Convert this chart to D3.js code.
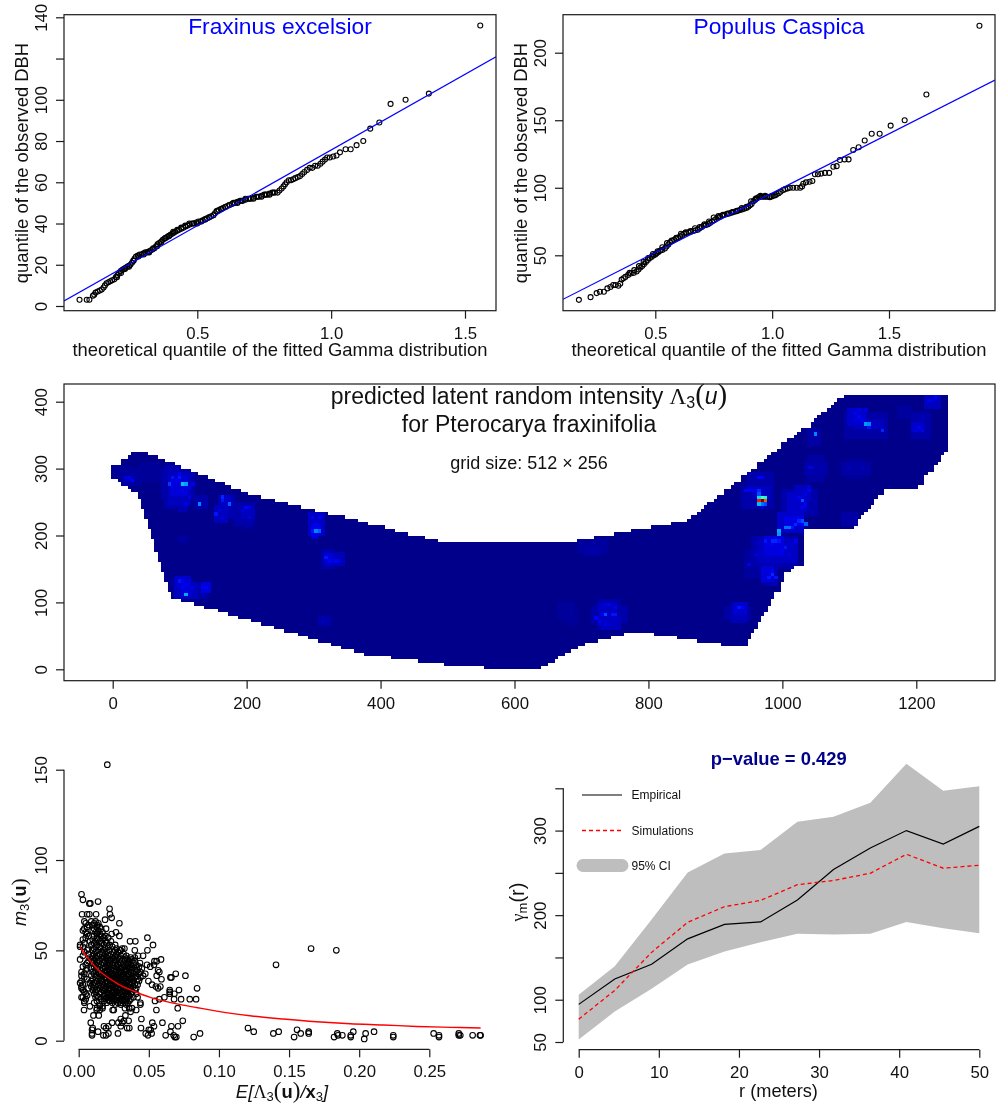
<!DOCTYPE html>
<html>
<head>
<meta charset="utf-8">
<script src="https://cdn.jsdelivr.net/npm/d3@7"></script>
<style>
body { margin: 0; background: #fff; }
svg { display: block; filter: blur(0.4px); }
text { font-family: "Liberation Sans", sans-serif; fill: #111; }
</style>
</head>
<body>
<svg id="chart" width="999" height="1105"></svg>
<script>
// ---- QQ plot: Fraxinus excelsior
var fraxTheo = [.06,.087,.097,.11,.115,.12,.128,.136,.143,.15,.155,.161,.168,.175,.182,.19,.196,.202,.208,.214,.22,.226,.232,.238,.244,.25,.256,.261,.266,.271,.278,.285,.292,.299,.306,.313,.32,.327,.334,.34,.346,.352,.358,.364,.37,.376,.382,.388,.394,.4,.406,.412,.418,.425,.432,.44,.448,.456,.464,.472,.48,.488,.496,.504,.512,.52,.528,.536,.544,.552,.56,.566,.572,.58,.588,.596,.604,.612,.62,.63,.64,.65,.66,.67,.68,.69,.7,.71,.72,.73,.74,.75,.76,.77,.78,.79,.8,.807,.815,.822,.828,.834,.842,.85,.858,.866,.875,.884,.892,.9,.91,.92,.93,.94,.95,.96,.968,.977,.985,.995,1.008,1.02,1.033,1.054,1.073,1.095,1.12,1.146,1.18,1.222,1.278,1.365,1.557,
.2,.215,.23,.245,.262,.28,.3,.32,.335,.35,.365,.38,.395,.41,.425,.44,.455,.47,.485,.5,.515,.53,.545,.56,.575,.59,.605,.62,.635,.65,.665,.68,.695,.71,.725,.74,.755,.77,.785];
var fraxObs = [3,3,3,5,5.5,6.5,7,7.5,8,9,10,11,11.5,12,12.5,13,14,15,16,17,17.5,18,18.5,19,19.5,20,21,22,23,24,24.5,25,25,25.5,26,26,26.5,27,27.5,28,29,30,30.5,31,32,32.5,33,33.5,34,34.5,35,35.5,36,36.5,37,37.5,38,38.5,39,39.5,40,40,40.5,41,41,41.5,42,42.5,43,43.5,44,45,46,46.5,47,47.5,48,48.5,49,49.5,50,50.5,51,51,51.5,52,52,52.5,53,53,53.5,54,54,54.5,55,55,55,56,57,58,59,60,61,61,61.5,62,62.5,63,64,65,66,67,67,68,68,69,70,71,72,72,72.5,73,74.5,76,76,78,80,86,89,98,100,103,136,
14,16,18,19,22,24,25,26,28,29,31,33,34,36,37,38,39,40,40,40,41,42,43,44,46,47,48,49,50,50,51,52,52,52,53,53,54,54,55];
var fraxLineX = [.002, 1.616];
var fraxLineY = [2.4, 120.9];

// ---- QQ plot: Populus Caspica
var popTheo = [.173,.223,.249,.263,.28,.295,.308,.32,.33,.342,.35,.356,.364,.372,.384,.395,.408,.42,.428,.436,.444,.452,.46,.468,.477,.485,.493,.5,.506,.514,.522,.53,.541,.548,.556,.563,.572,.581,.59,.598,.606,.615,.624,.633,.642,.652,.663,.672,.682,.69,.699,.708,.717,.726,.734,.743,.752,.761,.77,.777,.786,.796,.806,.816,.825,.834,.844,.853,.862,.871,.88,.89,.898,.905,.912,.92,.927,.934,.941,.948,.956,.964,.972,.98,.99,.998,1.006,1.014,1.02,1.028,1.036,1.048,1.056,1.066,1.076,1.09,1.105,1.12,1.128,1.133,1.145,1.16,1.172,1.183,1.196,1.21,1.226,1.244,1.262,1.276,1.29,1.31,1.327,1.347,1.37,1.396,1.426,1.46,1.507,1.567,1.66,1.887,
.39,.41,.43,.45,.47,.49,.51,.53,.55,.57,.59,.61,.63,.65,.67,.69,.71,.73,.75,.77,.79,.81,.83,.85,.87,.89,.91,.93,.95,.97,.99];
var popObs = [17,19,22,23,23,25.5,26.5,28,28,27.5,29,32,33,34,35.5,36.5,37,38,39.5,41,42,43.5,45,46.5,48,49,50,50.5,51.5,52.5,53.5,54,55,56.5,58,59.6,60.5,61.5,62.5,63,64,65,66,66.5,67,67.5,68,68.5,69,70,71,72,72.5,73,74,75,76,77,78,78.6,79.5,80,80.5,81,81.5,82,82.5,83,83.5,84,84.5,85,86,87,88,90,91,92,93,93.4,93.4,93.4,93.4,93.4,93.4,93.6,94,94.5,95.4,96,97,98.4,99,99.5,100,100,100,100,101,103,104,104.5,105,110,110,110.5,111,111,115.6,116,120.6,121,121,128,130,135,140,140,146,150,169,220,
37,39,42,45,48,51,53,56,59,61,63,66,67,68,70,71,73,75,78,79,80,81,82,83,85,86,90,92,94,94,93];
var popLineX = [.105, 1.9535];
var popLineY = [17.4, 179.8];

// ---- intensity map, cell table in 5 m steps [column start, edge]
var topEdge = [[-5,305],[10,315],[20,320],[25,325],[50,320],[65,315],[75,310],[90,305],[100,300],[115,295],[125,290],[140,285],[150,280],[165,275],[175,270],[190,265],[200,260],[220,255],[240,250],[260,245],[280,240],[300,235],[320,230],[345,225],[365,220],[380,215],[405,210],[420,205],[440,200],[465,195],[485,190],[695,195],[720,200],[750,205],[775,210],[805,215],[835,220],[860,225],[865,230],[875,235],[880,240],[885,245],[890,250],[900,255],[905,260],[915,270],[925,275],[930,280],[940,290],[950,295],[955,300],[965,310],[975,315],[980,320],[985,325],[995,330],[1000,340],[1010,345],[1020,350],[1025,355],[1030,360],[1045,370],[1050,375],[1055,380],[1060,385],[1070,390],[1075,395],[1080,400],[1085,405],[1095,410]];
var bottomEdge = [[-5,285],[5,280],[10,275],[20,270],[25,265],[35,255],[40,240],[45,225],[50,210],[55,195],[60,175],[65,160],[70,145],[75,130],[80,115],[85,105],[100,100],[120,95],[135,90],[155,85],[170,80],[185,75],[205,70],[220,65],[240,60],[255,55],[275,50],[290,45],[305,40],[325,35],[340,30],[360,25],[375,20],[415,15],[455,10],[495,5],[555,0],[640,5],[650,10],[660,15],[665,20],[675,25],[685,30],[695,35],[705,40],[725,45],[745,50],[765,55],[810,50],[845,45],[875,40],[910,35],[950,45],[955,55],[960,60],[965,70],[970,80],[975,85],[980,95],[985,105],[990,115],[1000,130],[1005,145],[1015,150],[1020,155],[1035,210],[1110,215],[1115,225],[1120,230],[1125,235],[1130,240],[1135,245],[1140,255],[1145,260],[1155,270],[1205,275],[1215,290],[1220,295],[1230,305],[1235,310],[1240,320],[1245,325]];
var lastColumn = 1245;
// faint patches [x0, y0, x1, y1, level]
var heatPatches = [
[0,285,20,300,.02],[10,275,35,295,.03],[35,280,65,305,.02],[15,280,25,285,.09],
[75,240,105,250,.05],[70,255,115,295,.05],[80,245,110,290,.08],[85,260,105,285,.12],[75,285,95,300,.06],[95,235,105,245,.06],
[120,240,135,255,.05],[155,225,175,255,.06],[150,220,165,240,.08],[160,245,170,255,.1],[180,215,205,245,.05],[190,225,205,240,.08],[195,210,200,220,.04],
[290,200,310,230,.09],[295,195,300,205,.13],[295,200,305,215,.14],[310,150,325,175,.05],[315,155,340,170,.07],[315,160,325,170,.12],
[90,120,110,135,.1],[90,105,120,125,.08],[100,110,110,130,.12],[120,105,135,125,.05],[130,115,140,125,.12],[85,125,100,130,.04],
[305,65,320,75,.05],[95,190,105,195,.03],[695,175,735,190,.03],[705,170,725,180,.04],[665,75,685,95,.025],[675,65,690,85,.02],
[725,60,755,100,.05],[715,70,765,90,.05],[725,65,750,95,.09],[730,60,755,75,.08],[915,75,950,90,.04],[925,70,945,95,.07],[930,80,945,95,.1],
[945,135,970,175,.03],[955,150,1020,195,.05],[965,160,1020,190,.09],[975,170,1000,195,.13],[970,130,985,150,.12],[975,125,990,160,.06],
[995,205,1030,230,.1],[1005,215,1030,225,.14],[1000,230,1050,265,.05],[1010,235,1035,260,.1],[1020,250,1040,270,.08],
[940,240,985,270,.05],[950,270,985,290,.05],[955,255,980,270,.08],
[1040,280,1060,315,.04],[1035,290,1065,305,.05],[1090,290,1130,305,.04],[1100,285,1120,310,.03],[1090,215,1110,230,.04],[1040,335,1055,355,.04],
[1095,345,1155,380,.04],[1100,365,1125,385,.1],[1110,360,1150,370,.08],[1195,345,1220,380,.05],[1195,355,1210,365,.1],[1215,390,1235,405,.08],[1175,375,1190,390,.03]];
// single bright cells [x, y, level]
var heatCells = [
[100,275,.38],[105,275,.35],[80,275,.24],[85,285,.2],[95,285,.2],[95,290,.18],[110,270,.16],[90,280,.16],[100,265,.16],[85,270,.17],[110,255,.14],[105,245,.14],[115,275,.15],
[125,245,.32],[160,255,.22],[160,250,.2],[170,245,.28],[195,240,.18],[200,240,.14],[150,230,.2],[155,235,.13],[160,225,.12],[200,225,.12],[190,235,.13],[25,280,.18],[20,285,.14],[15,285,.13],
[300,205,.32],[305,205,.28],[295,205,.2],[300,215,.16],[295,225,.16],[305,225,.18],[315,165,.2],[320,160,.18],[330,160,.16],[335,160,.14],
[95,130,.2],[105,110,.36],[100,120,.18],[105,125,.16],[100,130,.16],[115,120,.15],[130,120,.17],[135,120,.18],[140,125,.13],[310,70,.08],
[970,250,1],[965,250,.86],[975,250,.8],[970,255,.5],[965,255,.42],[975,255,.45],[965,245,.38],[970,245,.3],[975,245,.26],[965,260,.26],[965,265,.22],[970,240,.14],
[945,265,.16],[950,265,.16],[955,265,.16],[960,265,.15],[965,285,.18],[970,285,.17],[950,270,.1],
[1125,365,.34],[1130,365,.32],[1130,360,.2],[1150,355,.22],[1140,360,.12],[1110,380,.16],[1115,375,.18],[1120,370,.17],[1115,385,.14],[1125,385,.12],[1110,370,.14],
[1050,350,.32],[1205,360,.16],[1200,355,.14],[1210,355,.15],[1220,400,.16],[1230,405,.18],[1225,400,.14],[1210,375,.1],
[1030,250,.26],[1025,255,.16],[1035,260,.14],[1030,240,.18],[1035,245,.18],[1040,265,.16],
[1025,220,.22],[1030,220,.26],[1020,215,.22],[1035,215,.28],[1030,215,.18],[1025,225,.16],[1005,210,.3],[1010,210,.3],[1015,210,.2],[995,205,.36],[995,200,.34],
[975,190,.2],[985,190,.22],[990,190,.22],[995,190,.2],[985,185,.18],[1005,180,.2],[1000,175,.17],[1020,190,.16],[1015,185,.13],[1010,170,.14],[950,155,.14],[960,170,.12],
[985,140,.22],[980,135,.2],[990,135,.2],[985,145,.16],[1040,300,.14],[1045,300,.12],[1040,270,.13],[1100,300,.08],[1120,300,.08],
[935,90,.2],[940,90,.18],[930,85,.14],[945,85,.12],
[735,80,.26],[730,80,.17],[745,80,.2],[750,80,.2],[720,75,.17],[725,70,.15],[735,65,.14],[740,95,.15],[750,90,.16],[735,95,.12]];
var mapTitle1 = "predicted latent random intensity ";
var mapTitle2 = "for Pterocarya fraxinifolia";
var mapNote = "grid size: 512 \u00d7 256";

// ---- mark correlation scatter
var markOutliers = [[.0204,152.8],[.002,81],[.003,78],[.0076,76],[.0083,76],[.0138,77],[.022,73],[.0223,70],[.0235,68],[.0188,67],[.029,65],[.0024,70],[.006,70],[.0076,70],[.0124,70],[.0133,64],[.0195,62],[.0266,60],[.0235,59],[.029,58],[.0366,55],[.0404,55],[.049,57],[.053,53],[.04,50],[.049,50],[.0326,51],[.0295,50],[.0423,47],[.0459,47],[.0587,45],[.054,44],[.0556,44],[.0437,43],[.0487,42],[.0537,42],[.051,41],[.0566,39],[.0575,38],[.0475,37],[.0428,37],[.0459,36],[.0556,36],[.0654,35],[.0661,35],[.0692,37],[.0761,36],[.059,34],[.0497,33],[.0523,31],[.055,30],[.0582,30],[.0566,29],[.0844,29],[.0649,28],[.0649,27],[.0649,26],[.0715,28],[.0682,26],[.0611,24],[.0575,23],[.073,23],[.068,23],[.0792,23],[.0837,23],[.0544,22],[.0706,18],[.0554,17],
[.0742,11],[.0597,10],[.0525,10],[.0708,8],[.0661,8],[.0537,8],[.0654,5],[.0513,6],[.05,6],[.052,4],[.0478,4],[.0494,3],[.062,3],[.0677,3],[.0685,2],[.0696,2],[.082,2],[.0865,4],[.0444,7],[.0447,12],[.0345,7],[.0361,7],[.028,4],[.0356,11],[.0323,11],[.03,12],[.0283,10],[.0311,10],[.0238,10],[.03,8],[.0212,8],[.018,8],[.0195,7],[.0212,4],[.0195,3],[.0176,3],[.0138,5],[.0095,4],[.0095,3],[.0095,6],[.0086,10],[.01,7],[.0143,14],[.0105,14],[.015,17],[.0128,17],[.0038,17],[.0242,17],[.025,17],[.0333,14],[.037,16],[.041,17],
[.1207,7],[.1248,5],[.1407,42],[.1657,51],[.1837,50],[.1388,4],[.1426,5],[.1536,2],[.1557,6],[.1583,4],[.164,5],[.164,4],[.1821,2],[.1844,4],[.1849,3],[.188,3],[.1958,5],[.194,3],[.194,2],[.2046,4],[.2036,1],[.2106,5],[.2243,3],[.2243,2],[.2531,4],[.2569,3],[.2569,2],[.271,4],[.271,3],[.2721,3],[.2809,3],[.2861,3],[.2866,3]];
var markRows = [
[66,[.004,.009,.012]],[65,[.005,.011,.014]],[64,[.007,.01]],[63,[.006,.013,.015]],[62,[.004,.011,.016]],[61,[.003,.01,.014]],[60,[.005,.012,.017]],[59,[.006,.013,.015]],[58,[.007,.011,.016,.019]],[57,[.005,.013,.018,.021]],[56,[.003,.01,.014,.017]],[55,[.008,.012,.015,.019,.023]],[54,[.004,.011,.016,.02]],[53,[.001,.009,.013,.018,.022,.026]],[52,[.001,.003,.012,.015,.021,.024]],[51,[.007,.011,.016,.019,.027,.031]],[50,[.006,.01,.014,.018,.022,.026,.03]],[49,[.004,.012,.017,.02,.025,.028]],[48,[.007,.011,.015,.019,.023,.027,.032]],[47,[.003,.01,.013,.018,.021,.026,.03,.034]],[46,[.008,.012,.016,.02,.024,.028,.033,.037,.04]],[45,[.001,.009,.014,.017,.022,.025,.029,.035,.038]],[44,[.007,.011,.015,.019,.023,.027,.031,.036,.04]],[43,[.006,.01,.013,.018,.021,.026,.03,.034,.039]],[42,[.005,.012,.016,.02,.024,.028,.032,.037,.041]],[41,[.003,.011,.014,.019,.022,.027,.031,.035,.038,.043]],[40,[.006,.009,.013,.017,.021,.025,.029,.033,.036,.04,.045]],[39,[.005,.012,.015,.02,.023,.027,.031,.034,.038,.042]],[38,[.002,.01,.014,.018,.022,.026,.03,.033,.037,.041,.044]],[37,[.004,.011,.016,.019,.024,.028,.032,.035,.039]],[36,[.002,.009,.013,.017,.021,.025,.029,.034,.038,.041]],[35,[.004,.012,.015,.02,.023,.027,.031,.036,.04,.044]],[34,[.006,.01,.014,.018,.022,.026,.03,.033,.037,.042]],[33,[.002,.009,.013,.016,.021,.024,.028,.032,.035,.039,.043]],[32,[.001,.008,.011,.015,.019,.023,.027,.031,.034,.038]],[31,[.003,.01,.014,.017,.022,.025,.029,.033,.036,.04,.042]],[30,[.002,.009,.012,.016,.02,.024,.028,.032,.035,.039]],[29,[.002,.007,.011,.015,.018,.023,.026,.03,.034,.037,.041]],[28,[.003,.01,.013,.017,.021,.025,.029,.033,.036,.04]],[27,[.004,.012,.016,.02,.024,.027,.031,.035,.038]],[26,[.005,.011,.015,.019,.022,.026,.03,.034,.037,.041]],[25,[.006,.013,.018,.021,.025,.028,.032,.036]],[24,[.002,.003,.012,.014,.02,.023,.027,.031,.035,.039,.042]],[23,[.005,.016,.019,.024,.026,.03,.033,.037]],[22,[.004,.013,.018,.022,.025,.029,.032,.034,.036]],[21,[.004,.011,.02,.024,.028,.03,.033,.035,.044]],[20,[.015,.026,.03,.034,.044]],[19,[.008,.015,.017]],[18,[.013,.017,.033,.036,.038]],
[44.5,[.021,.026,.033]],[42.5,[.022,.028,.035]],[40.5,[.019,.024,.03,.037]],[38.5,[.02,.025,.029,.034]],[36.5,[.018,.023,.027,.032,.036]],[34.5,[.019,.024,.028,.033,.038]],[32.5,[.02,.026,.03,.036]],[30.5,[.018,.023,.027,.031,.037]],[28.5,[.019,.022,.028,.032,.035]],[26.5,[.021,.025,.029,.033]],[24.5,[.018,.024,.028,.034]],[22.5,[.021,.027,.031]]];
var curveX = [.001,.0057,.0105,.0152,.0223,.0295,.039,.051,.0628,.0746,.0865,.0984,.11,.1221,.1459,.1697,.1935,.2173,.241,.265,.2866];
var curveY = [52,46.5,42,38.3,34.2,30.8,27.5,24,21.6,19.7,18,16.4,15,13.8,12,10.5,9.4,8.7,7.9,7.4,7];

// ---- variogram envelope
var rValues = [0,4.5,9.1,13.6,18.2,22.7,27.3,31.8,36.4,40.9,45.5,50];
var empirical = [94.5,124.5,142,172,189,192,218,254,279.5,300,284,305];
var simulated = [77,111,156,191.5,210,217.5,236,241,249.5,272,255.5,259];
var upperCI = [106,139.5,195,250.5,273,277,310.5,316.5,333,379,347,352.5];
var lowerCI = [53,86,113,141.5,157,168,178,177,178,192,184.5,178.5];
var legendLabels = ["Empirical", "Simulations", "95% CI"];

var axisColor = "#1a1a1a";
var tickFont = 16.8;
var svg = d3.select("#chart");

function xTicks(g, scale, yPos, values, fmt, pad)
{
    var axis = d3.axisBottom(scale).tickValues(values).tickFormat(fmt).tickSize(8).tickPadding(pad);
    var a = g.append("g").attr("transform", "translate(0," + yPos + ")").call(axis);
    a.select(".domain").remove();
    a.selectAll("line").attr("stroke", axisColor).attr("stroke-width", 1.2);
    a.selectAll("text").attr("font-size", tickFont).attr("font-family", "Liberation Sans").attr("fill", "#111");
    return a;
}

function yTicks(g, scale, xPos, values, fmt)
{
    var axis = d3.axisLeft(scale).tickValues(values).tickFormat(fmt).tickSize(8).tickPadding(0);
    var a = g.append("g").attr("transform", "translate(" + xPos + ",0)").call(axis);
    a.select(".domain").remove();
    a.selectAll("line").attr("stroke", axisColor).attr("stroke-width", 1.2);
    // R style labels turned along the axis
    a.selectAll("text")
        .attr("font-size", tickFont)
        .attr("font-family", "Liberation Sans")
        .attr("fill", "#111")
        .attr("x", null).attr("dy", null)
        .attr("text-anchor", "middle")
        .attr("transform", "translate(-17.3,0) rotate(-90)");
    return a;
}

function box(g, x0, x1, y0, y1)
{
    g.append("rect").attr("x", x0).attr("y", y0).attr("width", x1 - x0).attr("height", y1 - y0)
        .attr("fill", "none").attr("stroke", axisColor).attr("stroke-width", 1.2);
}

function drawQQ(theo, obs, lineX, lineY, title, left, yScale, yVals, yFmt, xScale, clipId)
{
    var g = svg.append("g");
    var x0 = left, x1 = left + 432, y0 = 14.7, y1 = 310.7;
    svg.append("clipPath").attr("id", clipId).append("rect").attr("x", x0).attr("y", y0).attr("width", x1 - x0).attr("height", y1 - y0);
    var line = d3.line().x(function(d) { return xScale(d[0]); }).y(function(d) { return yScale(d[1]); });

    g.selectAll("circle").data(d3.zip(theo, obs)).enter().append("circle")
        .attr("cx", function(d) { return xScale(d[0]); })
        .attr("cy", function(d) { return yScale(d[1]); })
        .attr("r", 2.5).attr("fill", "none").attr("stroke", "#000").attr("stroke-width", 1.1);
    g.append("path").attr("d", line(d3.zip(lineX, lineY))).attr("clip-path", "url(#" + clipId + ")")
        .attr("stroke", "#0000ff").attr("stroke-width", 1.2).attr("fill", "none");
    box(g, x0, x1, y0, y1);

    xTicks(g, xScale, y1, [.5, 1, 1.5], d3.format(".1f"), 8);
    yTicks(g, yScale, x0, yVals, yFmt);
    g.append("text").attr("x", (x0 + x1) / 2).attr("y", 33.5).attr("text-anchor", "middle").attr("font-size", 22.8).style("fill", "#0000ff").text(title);
    g.append("text").attr("x", x0 + 216).attr("y", 356).attr("text-anchor", "middle").attr("font-size", 18.4).text("theoretical quantile of the fitted Gamma distribution");
    g.append("text").attr("transform", "translate(" + (x0 - 36) + ",163) rotate(-90)").attr("text-anchor", "middle").attr("font-size", 18.4).text("quantile of the observed DBH");
}

// top panels
var fraxX = d3.scaleLinear().domain([.5, 1.5]).range([197.3, 465]);
var fraxY = d3.scaleLinear().domain([0, 140]).range([306, 17.3]);
drawQQ(fraxTheo, fraxObs, fraxLineX, fraxLineY, "Fraxinus excelsior", 64, fraxY,
    [0, 20, 40, 60, 80, 100, 120, 140], function(d) { return d == 120 ? "" : d; }, fraxX, "clipFrax");

var popX = d3.scaleLinear().domain([.5, 1.5]).range([655.3, 889]);
var popY = d3.scaleLinear().domain([50, 200]).range([255.3, 52.7]);
drawQQ(popTheo, popObs, popLineX, popLineY, "Populus Caspica", 563, popY,
    [50, 100, 150, 200], function(d) { return d; }, popX, "clipPop");

// intensity map
var mapX = d3.scaleLinear().domain([0, 1200]).range([112.7, 916.3]);
var mapY = d3.scaleLinear().domain([0, 400]).range([669.3, 401.7]);
var heatColor = d3.scaleLinear()
    .domain([0, .18, .45, .65, .875, 1])
    .range(["#00008b", "#0000ff", "#00ffff", "#ffff00", "#ff0000", "#800000"]);

// the cell table was read in a slightly wider 5 step than the axis, this keeps it on the axis
function cellX(g) { return mapX(-2.5 + .995 * (g + 5)); }
var cellW = mapX(4.975) - mapX(0);
var cellH = mapY(0) - mapY(5);

function edgeAt(table, g)
{
    var v = table[0][1];
    for (var i = 0; i < table.length; i++)
    {
        if (table[i][0] <= g) v = table[i][1];
    }
    return v;
}

var columns = d3.range(-5, lastColumn + 5, 5);
var heat = new Map();
function setHeat(x, y, v)
{
    var key = x + "_" + y;
    if (!heat.has(key) || heat.get(key) < v) heat.set(key, v);
}
heatPatches.forEach(function(p) {
    for (var x = p[0]; x <= p[2]; x += 5)
    {
        for (var y = p[1]; y <= p[3]; y += 5)
        {
            setHeat(x, y, p[4]);
        }
    }
});
heatCells.forEach(function(c) { setHeat(c[0], c[1], c[2]); });

var map = svg.append("g").attr("shape-rendering", "crispEdges");
map.selectAll("rect.col").data(columns).enter().append("rect").attr("class", "col")
    .attr("x", function(d) { return cellX(d); })
    .attr("width", cellW + .4)
    .attr("y", function(d) { return mapY(edgeAt(topEdge, d)); })
    .attr("height", function(d) { return mapY(edgeAt(bottomEdge, d)) - mapY(edgeAt(topEdge, d)); })
    .attr("fill", heatColor(0));

var heatList = [];
heat.forEach(function(v, key) {
    var p = key.split("_").map(Number);
    if (p[0] <= lastColumn && p[1] >= edgeAt(bottomEdge, p[0]) && p[1] < edgeAt(topEdge, p[0]))
    {
        heatList.push({x: p[0], y: p[1], v: v});
    }
});
map.selectAll("rect.hot").data(heatList).enter().append("rect").attr("class", "hot")
    .attr("x", function(d) { return cellX(d.x); })
    .attr("y", function(d) { return mapY(d.y + 5); })
    .attr("width", cellW + .4).attr("height", cellH + .4)
    .attr("fill", function(d) { return heatColor(d.v); });

var mapG = svg.append("g");
box(mapG, 64, 995, 384, 680.7);
xTicks(mapG, mapX, 680.7, [0, 200, 400, 600, 800, 1000, 1200], d3.format("d"), 8);
yTicks(mapG, mapY, 64, [0, 100, 200, 300, 400], d3.format("d"));

var t1 = mapG.append("text").attr("x", 529).attr("y", 404).attr("text-anchor", "middle").attr("font-size", 23);
t1.append("tspan").text(mapTitle1);
t1.append("tspan").style("font-family", "Liberation Serif").text("\u039b");
t1.append("tspan").attr("font-size", 16).attr("dy", 4).text("3");
t1.append("tspan").attr("font-size", 29).attr("dy", -4).style("font-family", "Liberation Serif").text("(");
t1.append("tspan").attr("font-style", "italic").text("u");
t1.append("tspan").attr("font-size", 29).style("font-family", "Liberation Serif").text(")");
mapG.append("text").attr("x", 529).attr("y", 432).attr("text-anchor", "middle").attr("font-size", 23).text(mapTitle2);
mapG.append("text").attr("x", 529).attr("y", 469).attr("text-anchor", "middle").attr("font-size", 18).text(mapNote);

// scatter
var scatterX = d3.scaleLinear().domain([0, .25]).range([78.7, 429.3]);
var scatterY = d3.scaleLinear().domain([0, 150]).range([1040.7, 769.7]);
var scatterG = svg.append("g");
var markPoints = markOutliers.slice();
markRows.forEach(function(row) {
    row[1].forEach(function(x) { markPoints.push([x, row[0]]); });
});
scatterG.selectAll("circle").data(markPoints).enter().append("circle")
    .attr("cx", function(d) { return scatterX(d[0]); })
    .attr("cy", function(d) { return scatterY(d[1]); })
    .attr("r", 2.8).attr("fill", "none").attr("stroke", "#000").attr("stroke-width", 1.1);
var curve = d3.line().x(function(d) { return scatterX(d[0]); }).y(function(d) { return scatterY(d[1]); }).curve(d3.curveMonotoneX);
scatterG.append("path").attr("d", curve(d3.zip(curveX, curveY))).attr("fill", "none").attr("stroke", "#ff0000").attr("stroke-width", 1.4);

var sx = xTicks(scatterG, scatterX, 1049.3, [0, .05, .1, .15, .2, .25], d3.format(".2f"), 8);
sx.append("line").attr("x1", scatterX(0)).attr("x2", scatterX(.25)).attr("stroke", axisColor).attr("stroke-width", 1.2);
var sy = yTicks(scatterG, scatterY, 64, [0, 50, 100, 150], d3.format("d"));
sy.append("line").attr("y1", scatterY(0)).attr("y2", scatterY(150)).attr("stroke", axisColor).attr("stroke-width", 1.2);

var ex = scatterG.append("text").attr("x", 282).attr("y", 1098).attr("text-anchor", "middle").attr("font-size", 18.4).attr("font-style", "italic");
ex.append("tspan").text("E[");
ex.append("tspan").style("font-family", "Liberation Serif").attr("font-style", "normal").text("\u039b");
ex.append("tspan").attr("font-size", 13).attr("dy", 3).attr("font-style", "normal").text("3");
ex.append("tspan").attr("font-size", 23).attr("dy", -3).attr("font-style", "normal").style("font-family", "Liberation Serif").text("(");
ex.append("tspan").attr("font-weight", "bold").attr("font-style", "normal").text("u");
ex.append("tspan").attr("font-size", 23).attr("font-style", "normal").style("font-family", "Liberation Serif").text(")");
ex.append("tspan").text("/");
ex.append("tspan").attr("font-weight", "bold").attr("font-style", "normal").text("x");
ex.append("tspan").attr("font-size", 13).attr("dy", 3).attr("font-style", "normal").text("3");
ex.append("tspan").attr("dy", -3).text("]");

var ey = scatterG.append("text").attr("transform", "translate(26,902) rotate(-90)").attr("text-anchor", "middle").attr("font-size", 18);
ey.append("tspan").attr("font-style", "italic").text("m");
ey.append("tspan").attr("font-size", 13).attr("dy", 3).text("3");
ey.append("tspan").attr("font-size", 22).attr("dy", -3).style("font-family", "Liberation Serif").text("(");
ey.append("tspan").attr("font-weight", "bold").text("u");
ey.append("tspan").attr("font-size", 22).style("font-family", "Liberation Serif").text(")");

// envelope
var envX = d3.scaleLinear().domain([0, 50]).range([578.7, 979.3]);
var envY = d3.scaleLinear().domain([50, 350]).range([1042, 788.3]);
var envG = svg.append("g");
var band = d3.area()
    .x(function(d) { return envX(d[0]); })
    .y0(function(d) { return envY(d[1]); })
    .y1(function(d) { return envY(d[2]); });
var envLine = d3.line().x(function(d) { return envX(d[0]); }).y(function(d) { return envY(d[1]); });
envG.append("path").attr("d", band(d3.zip(rValues, lowerCI, upperCI))).attr("fill", "#bebebe");
envG.append("path").attr("d", envLine(d3.zip(rValues, empirical))).attr("fill", "none").attr("stroke", "#000").attr("stroke-width", 1.2);
envG.append("path").attr("d", envLine(d3.zip(rValues, simulated))).attr("fill", "none").attr("stroke", "#ff0000").attr("stroke-width", 1.3).attr("stroke-dasharray", "4,3");

var ex5 = xTicks(envG, envX, 1049.7, [0, 10, 20, 30, 40, 50], d3.format("d"), 8);
ex5.append("line").attr("x1", envX(0)).attr("x2", envX(50)).attr("stroke", axisColor).attr("stroke-width", 1.2);
var ey5 = yTicks(envG, envY, 563.3, [50, 100, 150, 200, 250, 300, 350], function(d) { return (d == 150 || d == 250 || d == 350) ? "" : d; });
ey5.append("line").attr("y1", envY(50)).attr("y2", envY(350)).attr("stroke", axisColor).attr("stroke-width", 1.2);

envG.append("text").attr("x", 778.7).attr("y", 765).attr("text-anchor", "middle").attr("font-size", 18.4).attr("font-weight", "bold").style("fill", "#00008b").text("p\u2212value = 0.429");
envG.append("text").attr("x", 778.5).attr("y", 1097).attr("text-anchor", "middle").attr("font-size", 18.2).text("r (meters)");
var gy = envG.append("text").attr("transform", "translate(524,902) rotate(-90)").attr("text-anchor", "middle").attr("font-size", 18);
gy.append("tspan").style("font-family", "Liberation Serif").text("\u03b3");
gy.append("tspan").attr("font-size", 13).attr("dy", 3).text("m");
gy.append("tspan").attr("dy", -3).attr("font-size", 20).text("(r)");

// legend
var legendY = [795, 830.5, 865.5];
envG.append("line").attr("x1", 582).attr("x2", 622).attr("y1", legendY[0]).attr("y2", legendY[0]).attr("stroke", "#000").attr("stroke-width", 1.2);
envG.append("line").attr("x1", 582).attr("x2", 622).attr("y1", legendY[1]).attr("y2", legendY[1]).attr("stroke", "#ff0000").attr("stroke-width", 1.3).attr("stroke-dasharray", "4,3");
envG.append("line").attr("x1", 583).attr("x2", 622).attr("y1", legendY[2]).attr("y2", legendY[2]).attr("stroke", "#bebebe").attr("stroke-width", 13).attr("stroke-linecap", "round");
envG.selectAll("text.leg").data(legendLabels).enter().append("text").attr("class", "leg")
    .attr("x", 631.5)
    .attr("y", function(d, i) { return legendY[i] + 4; })
    .attr("font-size", 12)
    .text(function(d) { return d; });
</script>
</body>
</html>
